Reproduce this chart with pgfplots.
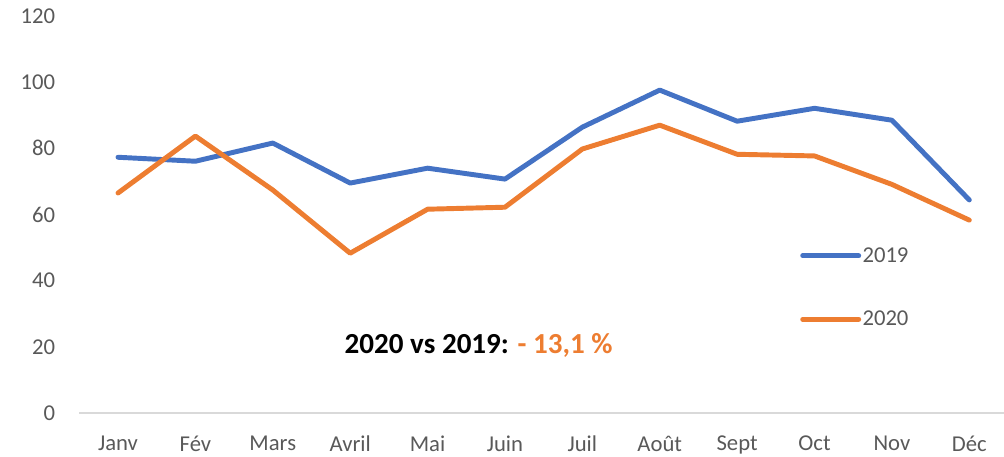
\documentclass[border=0pt]{standalone}
\usepackage{pgfplots}
\pgfplotsset{compat=1.18}
\usepackage{fontspec}
\setmainfont{Carlito}
\definecolor{cblue}{HTML}{4472C4}
\definecolor{corange}{HTML}{ED7D31}
\definecolor{tickgray}{HTML}{595959}
\definecolor{axgray}{HTML}{D9D9D9}
\begin{document}
\begin{tikzpicture}[x=1pt,y=1pt]
\path[use as bounding box] (0,0) rectangle (753,342.75);
\begin{axis}[
  at={(59.5pt,33pt)}, anchor=south west,
  scale only axis, width=696.5pt, height=297.75pt,
  xmin=-0.5, xmax=11.5, ymin=0, ymax=120,
  clip=false,
  axis line style={draw=none},
  tick style={draw=none},
  xtick={0,...,11},
  xticklabels={Janv,Fév,Mars,Avril,Mai,Juin,Juil,Août,Sept,Oct,Nov,Déc},
  ytick={0,20,...,120},
  /pgf/number format/assume math mode=true,
  ticklabel style={font=\fontsize{17}{20}\selectfont, text=tickgray},
  yticklabel style={anchor=east, inner sep=0pt, xshift=-18pt},
  xticklabel style={anchor=north, inner sep=0pt, yshift=-17pt},
  legend style={at={(rel axis cs:0.776,0.316)}, anchor=west, draw=none, fill=none,
    font=\fontsize{17}{20}\selectfont, text=tickgray, row sep=33pt, inner sep=0pt,
    nodes={inner sep=1pt}},
  legend cell align=left,
  legend image code/.code={\draw[#1] (0pt,0pt) -- (42pt,0pt);},
  every axis plot/.append style={line width=3.7pt, line cap=round, line join=round},
]
\draw[axgray, line width=0.9pt] (rel axis cs:0,0) -- (rel axis cs:1,0);
\addplot[cblue] coordinates {
(0,77.3) (1,76.1) (2,81.6) (3,69.5) (4,74.0) (5,70.7)
(6,86.4) (7,97.6) (8,88.2) (9,92.1) (10,88.5) (11,64.4)};
\addlegendentry{2019}
\addplot[corange] coordinates {
(0,66.5) (1,83.7) (2,67.4) (3,48.3) (4,61.6) (5,62.2)
(6,79.8) (7,87.0) (8,78.2) (9,77.7) (10,69.1) (11,58.3)};
\addlegendentry{2020}
\node[font=\fontsize{21.8}{25}\selectfont\bfseries] at (rel axis cs:0.430,0.169)
  {2020 vs 2019: \textcolor{corange}{- 13,1 \%}};
\end{axis}
\end{tikzpicture}
\end{document}
